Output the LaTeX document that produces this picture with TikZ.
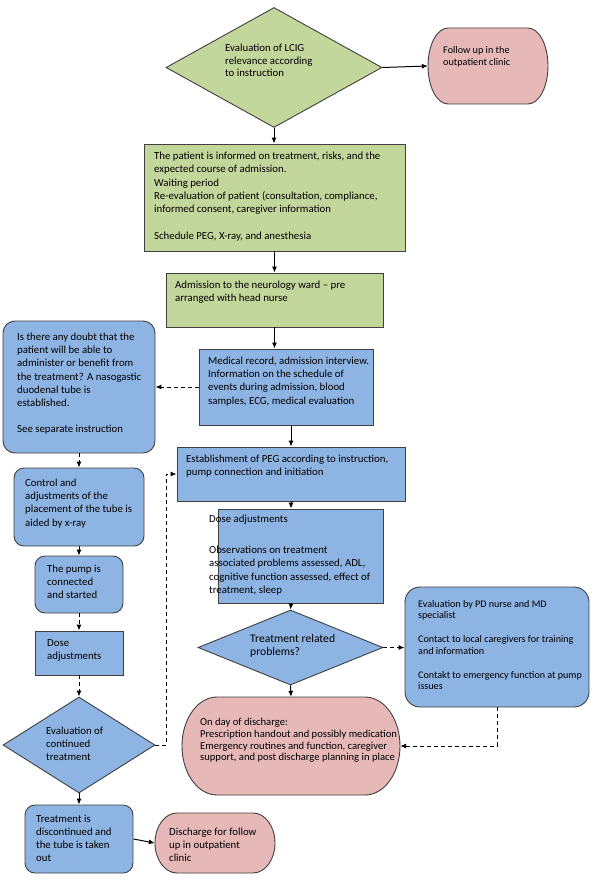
\documentclass[tikz,border=0pt]{standalone}
\usepackage{fontspec}
\setmainfont{Carlito}
\usetikzlibrary{shapes.geometric,arrows.meta}
\definecolor{gfill}{HTML}{C3D69B}
\definecolor{pfill}{HTML}{E6B9B8}
\definecolor{bfill}{HTML}{8EB4E3}
\definecolor{edgecol}{HTML}{404040}
\tikzset{
 shp/.style={draw=edgecol, line width=0.9pt, inner sep=0pt},
 gbox/.style={shp, fill=gfill, rectangle},
 bbox/.style={shp, fill=bfill, rectangle},
 rbox/.style={shp, fill=bfill, rectangle, rounded corners=10pt},
 gdia/.style={shp, fill=gfill, diamond},
 bdia/.style={shp, fill=bfill, diamond},
 anchorbox/.style={rectangle, inner sep=0pt, draw=none},
 pillst/.style={draw=edgecol, line width=0.9pt, fill=pfill},
 tx/.style={anchor=north west, inner sep=0pt, yshift=-1.8pt, align=left, font=\fontsize{10.8}{13.3}\selectfont, execute at begin node=\strut},
 txs/.style={tx, font=\fontsize{10.1}{11.7}\selectfont},
 arr/.style={-{Latex[length=6pt,width=5pt]}, line width=1pt, black},
 darr/.style={arr, dash pattern=on 4pt off 3pt},
}
\newcommand\drawpill[5]{%
 \pgfmathsetmacro\pillxa{#1+#5}%
 \pgfmathsetmacro\pillxb{#3-#5}%
 \pgfmathsetmacro\pillcy{(#2+#4)/2}%
 \pgfmathsetmacro\pillvr{(#4-#2)/2}%
 \pgfmathsetmacro\pillkh{0.5523*#5}%
 \pgfmathsetmacro\pillkv{0.5523*\pillvr}%
 \draw[pillst] (\pillxa,#2) -- (\pillxb,#2)
   .. controls (\pillxb+\pillkh,#2) and (#3,\pillcy-\pillkv) .. (#3,\pillcy)
   .. controls (#3,\pillcy+\pillkv) and (\pillxb+\pillkh,#4) .. (\pillxb,#4)
   -- (\pillxa,#4)
   .. controls (\pillxa-\pillkh,#4) and (#1,\pillcy+\pillkv) .. (#1,\pillcy)
   .. controls (#1,\pillcy-\pillkv) and (\pillxa-\pillkh,#2) .. cycle;}
\begin{document}
\begin{tikzpicture}[x=1pt,y=-1pt]
\fill[white] (0,0) rectangle (600,888);
\useasboundingbox (0,0) rectangle (600,888);

% shapes
\node[gdia, minimum width=216pt, minimum height=120pt] (topd) at (274,67.5) {};
\drawpill{428}{28}{548}{104}{20}
\node[anchorbox, minimum width=120pt, minimum height=76pt] (follow) at (488,66) {};
\node[gbox, minimum width=261pt, minimum height=107pt] (g1) at (274.5,197.5) {};
\node[gbox, minimum width=217pt, minimum height=54pt] (g2) at (274.5,300) {};
\node[rbox, rounded corners=12pt, minimum width=152pt, minimum height=132pt] (left1) at (79,387) {};
\node[bbox, minimum width=174pt, minimum height=76pt] (med) at (286,387) {};
\node[bbox, minimum width=228pt, minimum height=54pt] (est) at (291,474) {};
\node[bbox, minimum width=165pt, minimum height=94pt] (dose) at (300.5,556) {};
\node[bdia, minimum width=185pt, minimum height=75pt] (treat) at (290.5,647.5) {};
\node[rbox, rounded corners=15pt, minimum width=184pt, minimum height=120pt] (pd) at (497,647) {};
\drawpill{182}{697}{400}{795}{35}
\node[anchorbox, minimum width=218pt, minimum height=98pt] (dis) at (291,746) {};
\node[rbox, minimum width=130pt, minimum height=78pt] (control) at (79,507) {};
\node[rbox, minimum width=88pt, minimum height=57pt] (pump) at (79,584.5) {};
\node[bbox, minimum width=88pt, minimum height=44pt] (dosesm) at (79,653) {};
\node[bdia, minimum width=152pt, minimum height=96pt] (evald) at (79,745) {};
\node[rbox, minimum width=108pt, minimum height=68pt] (disc) at (79,839) {};
\drawpill{155}{813}{275}{873}{22}
\node[anchorbox, minimum width=120pt, minimum height=60pt] (dfollow) at (215,843) {};

% texts
\node[tx, font=\fontsize{10.8}{12.5}\selectfont] (topdt) at (225,42.2) {Evaluation of LCIG\\relevance according\\to instruction};
\node[txs, font=\fontsize{10.2}{11.7}\selectfont] (followt) at (443,44.8) {Follow up in the\\outpatient clinic};
\node[tx] (g1t) at (154,149.9) {The patient is informed on treatment, risks, and the\\expected course of admission.\\Waiting period\\Re-evaluation of patient (consultation, compliance,\\informed consent, caregiver information\\[13.3pt]Schedule PEG, X-ray, and anesthesia};
\node[tx, font=\fontsize{10.8}{12.8}\selectfont] (g2t) at (175,278.9) {Admission to the neurology ward – pre\\arranged with head nurse};
\node[tx] (left1t) at (17,330.6) {Is there any doubt that the\\patient will be able to\\administer or benefit from\\the treatment? A nasogastic\\duodenal tube is\\established.\\[12.4pt]See separate instruction};
\node[tx] (medt) at (208,354.6) {Medical record, admission interview.\\Information on the schedule of\\events during admission, blood\\samples, ECG, medical evaluation};
\node[tx, font=\fontsize{10.8}{12.4}\selectfont] (estt) at (186,453.2) {Establishment of PEG according to instruction,\\pump connection and initiation};
\node[tx] (doset) at (209,513.2) {Dose adjustments\\[17.4pt]Observations on treatment\\associated problems assessed, ADL,\\cognitive function assessed, effect of\\treatment, sleep};
\node[tx, font=\fontsize{11.6}{13.4}\selectfont] (treatt) at (250,632.3) {Treatment related\\problems?};
\node[txs] (pdt) at (418,598.1) {Evaluation by PD nurse and MD\\specialist\\[12.3pt]Contact to local caregivers for training\\and information\\[11.9pt]Contakt to emergency function at pump\\issues};
\node[txs, font=\fontsize{10.6}{11.7}\selectfont] (dist) at (200,716.5) {On day of discharge:\\Prescription handout and possibly medication\\Emergency routines and function, caregiver\\support, and post discharge planning in place};
\node[tx] (controlt) at (25,476.6) {Control and\\adjustments of the\\placement of the tube is\\aided by x-ray};
\node[tx, font=\fontsize{10.8}{12.9}\selectfont] (pumpt) at (47,563.2) {The pump is\\connected\\and started};
\node[tx] (dosesmt) at (47,637.2) {Dose\\adjustments};
\node[tx, font=\fontsize{10.8}{13}\selectfont] (evaldt) at (46,724.6) {Evaluation of\\continued\\treatment};
\node[tx, font=\fontsize{10.8}{13}\selectfont] (disct) at (36,813.2) {Treatment is\\discontinued and\\the tube is taken\\out};
\node[tx, font=\fontsize{10.8}{13}\selectfont] (dfollowt) at (169,826.2) {Discharge for follow\\up in outpatient\\clinic};

% connectors
\draw[arr] (topd.east) -- (follow.west);
\draw[arr] (topd.south) -- (topd.south |- g1.north);
\draw[arr] (g1.south) -- (g1.south |- g2.north);
\draw[arr] (g2.south) -- (g2.south |- med.north);
\draw[arr] (med.south -| est.north) -- (est.north);
\draw[arr] (est.south) -- (est.south |- dose.north);
\draw[arr] (est.south |- dose.south) -- (treat.north);
\draw[arr] (treat.south) -- (dis.north);
\draw[darr] (treat.east) -- (treat.east -| pd.west);
\draw[darr] (pd.south) |- (dis.east);
\draw[darr] (med.west) -- (left1.east);
\draw[darr] (left1.south) -- (control.north);
\draw[darr] (control.south) -- (pump.north);
\draw[darr] (pump.south) -- (dosesm.north);
\draw[darr] (dosesm.south) -- (evald.north);
\draw[darr] (evald.east) -- ++(11,0) |- (est.west);
\draw[arr] (evald.south) -- (disc.north);
\draw[arr] (disc.east) -- (dfollow.west);
\end{tikzpicture}
\end{document}
